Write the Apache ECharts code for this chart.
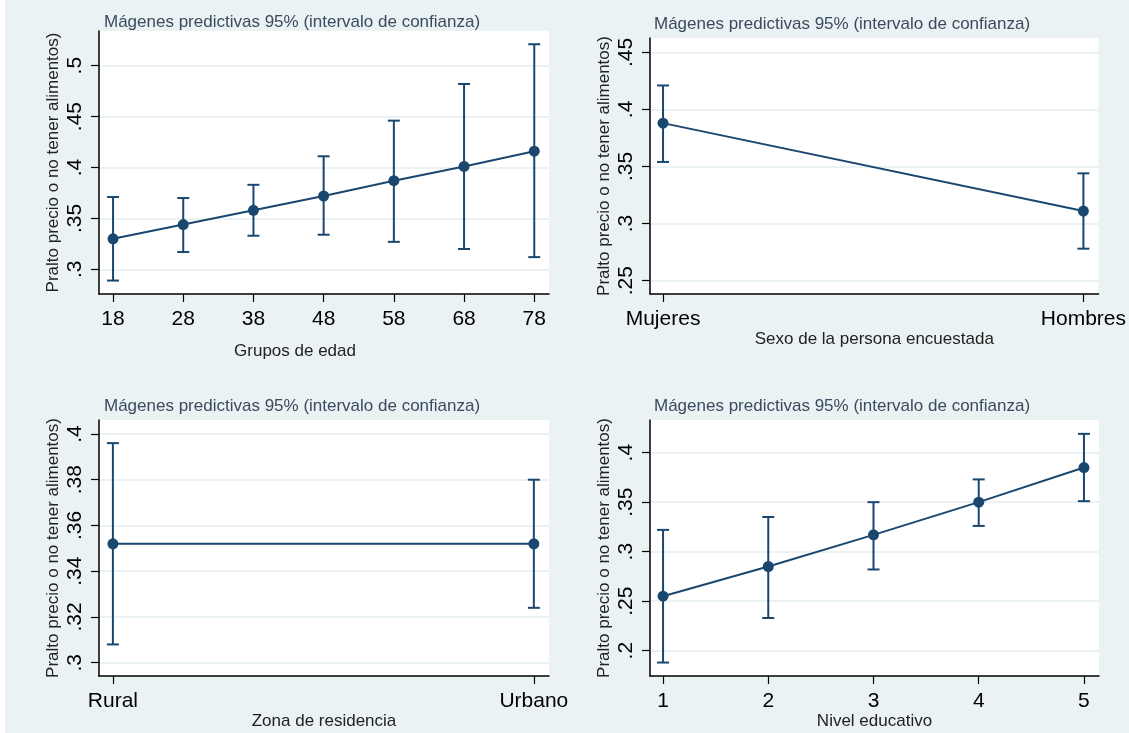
<!DOCTYPE html>
<html>
<head>
<meta charset="utf-8">
<script src="https://cdn.jsdelivr.net/npm/echarts@6/dist/echarts.min.js"></script>
<style>
  html, body { margin: 0; padding: 0; background: #fff; }
  #main { position: absolute; left: 5px; top: 0; width: 1124px; height: 733px; }
</style>
</head>
<body>

<!-- 四个小图放在同一个 echarts 实例里 -->
<div id="main"></div>

<script type="text/javascript">
    // 数据：年龄组
    var edadX = [18, 28, 38, 48, 58, 68, 78];
    var edadY = [0.330, 0.344, 0.358, 0.372, 0.387, 0.401, 0.416];
    var edadLo = [0.289, 0.317, 0.333, 0.334, 0.327, 0.320, 0.312];
    var edadHi = [0.371, 0.370, 0.383, 0.411, 0.446, 0.482, 0.521];
    var edadTicks = [0.3, 0.35, 0.4, 0.45, 0.5];

    // 数据：性别
    var sexoCats = ['Mujeres', 'Hombres'];
    var sexoY = [0.388, 0.311];
    var sexoLo = [0.354, 0.278];
    var sexoHi = [0.421, 0.344];
    var sexoTicks = [0.25, 0.3, 0.35, 0.4, 0.45];

    // 数据：居住区
    var zonaCats = ['Rural', 'Urbano'];
    var zonaY = [0.352, 0.352];
    var zonaLo = [0.308, 0.324];
    var zonaHi = [0.396, 0.380];
    var zonaTicks = [0.3, 0.32, 0.34, 0.36, 0.38, 0.4];

    // 数据：教育水平
    var educX = [1, 2, 3, 4, 5];
    var educY = [0.255, 0.285, 0.317, 0.350, 0.385];
    var educLo = [0.188, 0.233, 0.282, 0.326, 0.351];
    var educHi = [0.322, 0.335, 0.350, 0.373, 0.419];
    var educTicks = [0.2, 0.25, 0.3, 0.35, 0.4];

    var titulo = 'Mágenes predictivas 95% (intervalo de confianza)';
    var yNombre = 'Pralto precio o no tener alimentos)';
    var azul = '#1a476f';
    var fondo = '#eaf2f3';
    var fuente = 'Liberation Sans, Arial, sans-serif';

    function fmtY(v) {
        return String(+v.toFixed(3)).replace(/^0/, '');
    }

    function xAxisCfg(idx, min, max, ticks, nombre, gap, labels, pad) {
        return {
            gridIndex: idx, type: 'value', min: min, max: max,
            name: nombre, nameLocation: 'middle', nameGap: gap,
            nameTextStyle: { fontSize: 17, color: '#222', fontFamily: fuente, padding: pad || 0 },
            axisLine: { show: true, onZero: false, lineStyle: { color: '#000', width: 1.5 } },
            axisTick: { show: true, length: 8, customValues: ticks, lineStyle: { color: '#000', width: 1.2 } },
            axisLabel: {
                customValues: ticks, margin: 15, fontSize: 21, color: '#000', fontFamily: fuente,
                formatter: function (v) { return labels ? labels[Math.round(v)] : String(v); }
            },
            splitLine: { show: false }
        };
    }

    function yAxisCfg(idx, min, max, ticks) {
        return {
            gridIndex: idx, type: 'value', min: min, max: max,
            name: yNombre, nameLocation: 'middle', nameGap: 37,
            nameTextStyle: { fontSize: 17, color: '#222', fontFamily: fuente },
            axisLine: { show: true, onZero: false, lineStyle: { color: '#000', width: 1.5 } },
            axisTick: { show: true, length: 8, customValues: ticks, lineStyle: { color: '#000', width: 1.2 } },
            axisLabel: {
                customValues: ticks, rotate: 90, margin: 13, fontSize: 21, color: '#000', fontFamily: fuente,
                formatter: fmtY
            },
            splitLine: { show: true, lineStyle: { color: fondo, width: 2 } }
        };
    }

    function pares(xs, ys) {
        return xs.map(function (x, i) { return [x, ys[i]]; });
    }
    function barras(xs, lo, hi) {
        return xs.map(function (x, i) { return [x, lo[i], hi[i]]; });
    }

    function errorBars(idx, data) {
        return {
            type: 'custom', xAxisIndex: idx, yAxisIndex: idx, data: data,
            encode: { x: 0, y: [1, 2] }, z: 2,
            renderItem: function (params, api) {
                var x = api.value(0);
                var a = api.coord([x, api.value(1)]);
                var b = api.coord([x, api.value(2)]);
                var w = 6;
                var st = { stroke: azul, lineWidth: 2 };
                return {
                    type: 'group',
                    children: [
                        { type: 'line', shape: { x1: a[0], y1: a[1], x2: b[0], y2: b[1] }, style: st },
                        { type: 'line', shape: { x1: a[0] - w, y1: a[1], x2: a[0] + w, y2: a[1] }, style: st },
                        { type: 'line', shape: { x1: b[0] - w, y1: b[1], x2: b[0] + w, y2: b[1] }, style: st }
                    ]
                };
            }
        };
    }

    function linea(idx, data) {
        return {
            type: 'line', xAxisIndex: idx, yAxisIndex: idx, data: data, z: 3,
            symbol: 'circle', symbolSize: 11,
            lineStyle: { color: azul, width: 2 },
            itemStyle: { color: azul }
        };
    }

    var myChart = echarts.init(document.getElementById('main'));

    var gridBase = { show: true, backgroundColor: '#fff', borderWidth: 0, containLabel: false };

    var option = {
        animation: false,
        backgroundColor: fondo,
        title: [
            { text: titulo, left: 99, top: 14 },
            { text: titulo, left: 649, top: 16 },
            { text: titulo, left: 99, top: 398 },
            { text: titulo, left: 649, top: 398 }
        ].map(function (t) {
            t.padding = 0;
            t.textStyle = { fontSize: 17, fontWeight: 'normal', color: '#3b4a5e', fontFamily: fuente };
            return t;
        }),
        grid: [
            Object.assign({ left: 94, top: 31, width: 450, height: 263 }, gridBase),
            Object.assign({ left: 645, top: 38, width: 449, height: 256 }, gridBase),
            Object.assign({ left: 94, top: 420, width: 450, height: 256 }, gridBase),
            Object.assign({ left: 645, top: 420, width: 449, height: 256 }, gridBase)
        ],
        xAxis: [
            xAxisCfg(0, 16, 80.1, edadX, 'Grupos de edad', 49, null, [0, 58, 0, 0]),
            xAxisCfg(1, -0.031, 1.036, [0, 1], 'Sexo de la persona encuestada', 35, sexoCats),
            xAxisCfg(2, -0.033, 1.036, [0, 1], 'Zona de residencia', 35, zonaCats),
            xAxisCfg(3, 0.876, 5.143, educX, 'Nivel educativo', 35, null)
        ],
        yAxis: [
            yAxisCfg(0, 0.2758, 0.534, edadTicks),
            yAxisCfg(1, 0.2383, 0.4626, sexoTicks),
            yAxisCfg(2, 0.2942, 0.4061, zonaTicks),
            yAxisCfg(3, 0.1744, 0.433, educTicks)
        ],
        series: [
            errorBars(0, barras(edadX, edadLo, edadHi)),
            linea(0, pares(edadX, edadY)),
            errorBars(1, barras([0, 1], sexoLo, sexoHi)),
            linea(1, pares([0, 1], sexoY)),
            errorBars(2, barras([0, 1], zonaLo, zonaHi)),
            linea(2, pares([0, 1], zonaY)),
            errorBars(3, barras(educX, educLo, educHi)),
            linea(3, pares(educX, educY))
        ]
    };

    myChart.setOption(option);
</script>

</body>
</html>
